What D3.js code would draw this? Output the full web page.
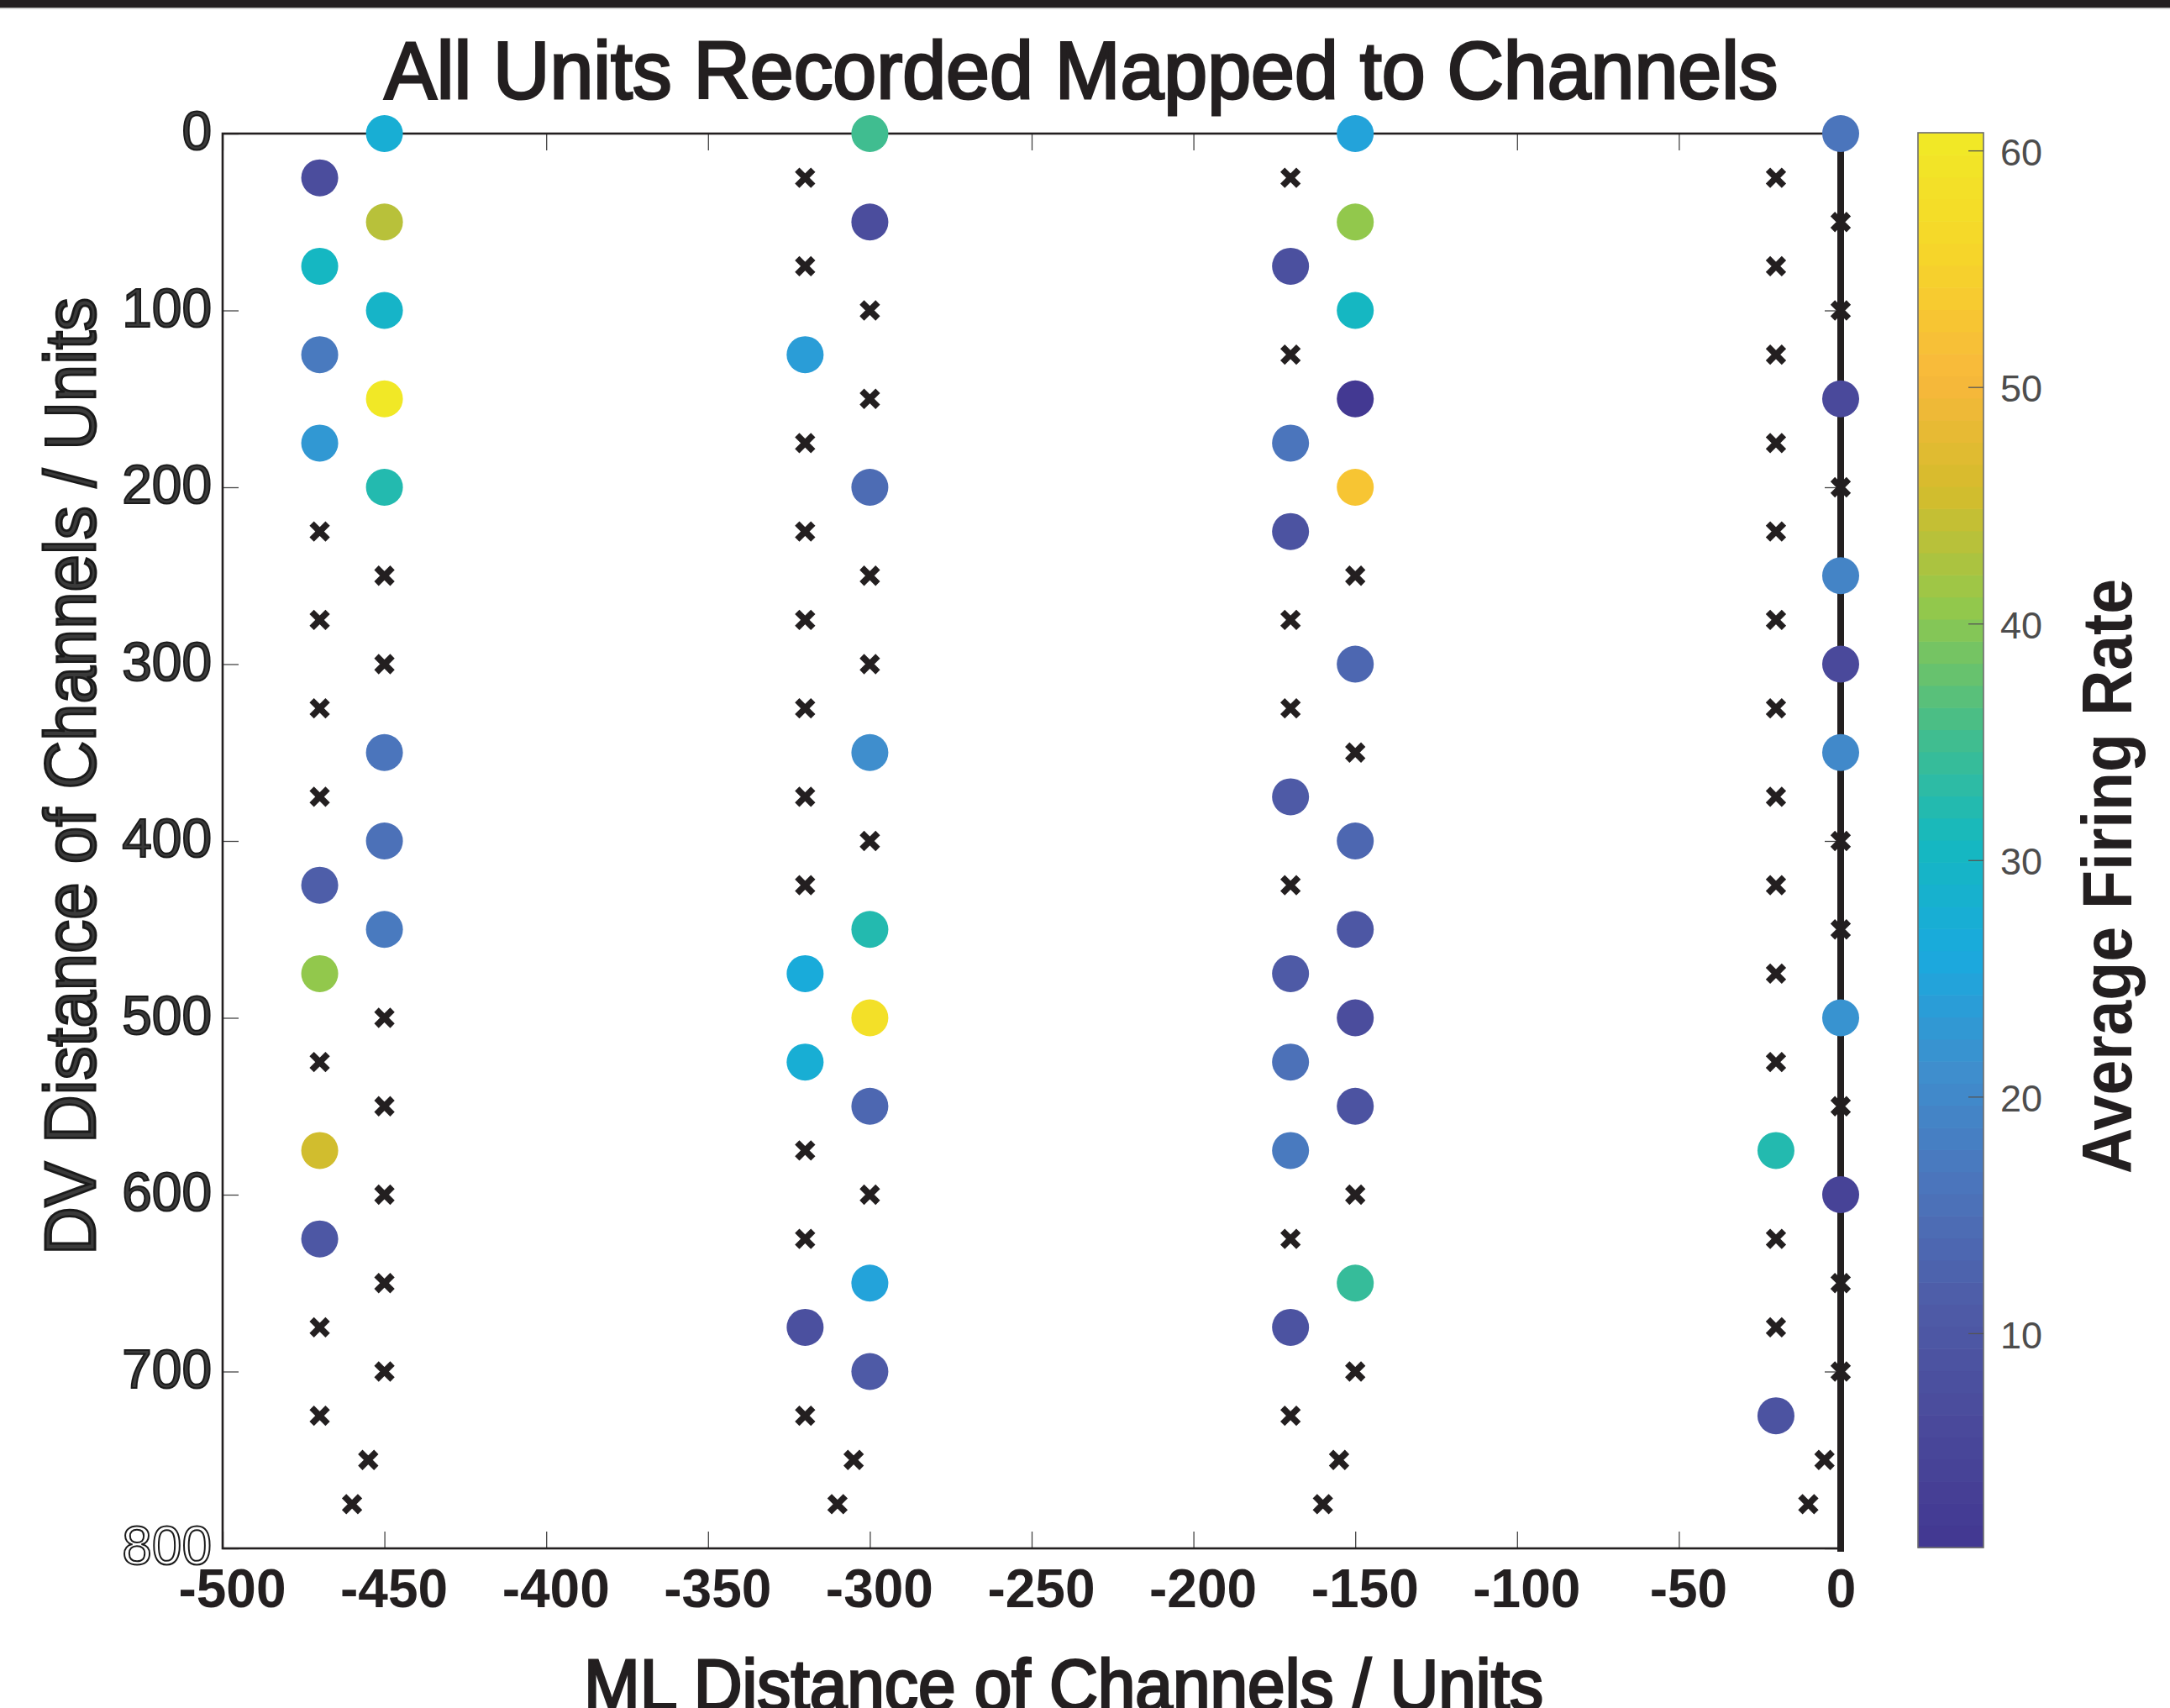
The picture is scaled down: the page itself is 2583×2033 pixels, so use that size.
<!DOCTYPE html>
<html>
<head>
<meta charset="utf-8">
<script src="https://cdn.jsdelivr.net/npm/d3@7"></script>
<style>
  body { margin: 0; background: #fff; }
  text { font-family: "Liberation Sans", Arial, sans-serif; }
</style>
</head>
<body>
<script>
// site depths (DV) for the two columns of each shank
var dvOffset = [25, 75, 125, 175, 225, 275, 325, 375, 425, 475, 525, 575, 625, 675, 725];
var dvEven   = [0, 50, 100, 150, 200, 250, 300, 350, 400, 450, 500, 550, 600, 650, 700];

// ML position of every column (shank pairs)
var colML = [-470, -450, -320, -300, -170, -150, -20, 0];

// average firing rate per site, null = no unit recorded (drawn as x)
var rate_m470 = [7, 30, 17, 23, null, null, null, null, 12, 41, null, 45, 10, null, null];
var rate_m450 = [28, 43.5, 29.5, 60.75, 32, null, null, 16, 15, 17, null, null, null, null, null];
var rate_m320 = [null, null, 23.5, null, null, null, null, null, null, 26.5, 28, null, null, 8, null];
var rate_m300 = [35, 7, null, null, 14.5, null, null, 21, null, 32, 58, 13.5, null, 24.5, 11];
var rate_m170 = [null, 7.5, null, 16.5, 9, null, null, 10.5, null, 10.5, 15.5, 17.5, null, 9, null];
var rate_m150 = [24.5, 41, 30.5, 0.94, 52.5, null, 14, null, 13.5, 10, 7, 9, null, 34, null];
var rate_m20  = [null, null, null, null, null, null, null, null, null, null, null, 32.5, null, null, 9];
var rate_0    = [16, null, null, 6.5, null, 19.5, 6, 20, null, null, 22, null, 4.5, null, null];

// tip sites near shank ends (no units)
var tipML = [-455, -460, -305, -310, -155, -160, -5, -10];
var tipDV = [750, 775, 750, 775, 750, 775, 750, 775];

var xTicks = [-500, -450, -400, -350, -300, -250, -200, -150, -100, -50, 0];
var yTicks = [0, 100, 200, 300, 400, 500, 600, 700, 800];
var cbTicks = [10, 20, 30, 40, 50, 60];

// colormap as seen in the colorbar (64 levels)
var cmapStops = ["#433992", "#4a4a9b", "#4e5ca7", "#4c74bb", "#3f8ecd", "#1aa9de", "#15b9bf",
                 "#47be88", "#92c84c", "#d4bc2c", "#f8b83c", "#f6d42a", "#f1e826"];

// build site table
var colRates = [rate_m470, rate_m450, rate_m320, rate_m300, rate_m170, rate_m150, rate_m20, rate_0];
var sites = [];
colRates.forEach(function(r, c) {
	var dv = (c % 2 == 0) ? dvOffset : dvEven;
	r.forEach(function(v, i) { sites.push({ ml: colML[c], dv: dv[i], rate: v }); });
});
tipML.forEach(function(m, i) { sites.push({ ml: m, dv: tipDV[i], rate: null }); });
var units = sites.filter(function(d) { return d.rate !== null; });
var empty = sites.filter(function(d) { return d.rate === null; });

var W = 2583, H = 2033;
var svg = d3.select("body").append("svg").attr("width", W).attr("height", H);
svg.append("rect").attr("width", W).attr("height", H).attr("fill", "#fff");
svg.append("rect").attr("width", W).attr("height", 9).attr("fill", "#231f20");
svg.append("rect").attr("y", 9).attr("width", W).attr("height", 1.5).attr("fill", "#bbbbbb");

var x = d3.scaleLinear().domain([-500, 0]).range([265, 2191]);
var y = d3.scaleLinear().domain([0, 800]).range([159, 1843]);

var ext = d3.extent(units, function(d) { return d.rate; });
var cinterp = d3.scaleLinear().domain(d3.range(cmapStops.length).map(function(i) { return i / (cmapStops.length - 1); }))
	.range(cmapStops).interpolate(d3.interpolateRgb);
function cmap(v) {
	var t = (v - ext[0]) / (ext[1] - ext[0]);
	var idx = Math.max(0, Math.min(63, Math.floor(t * 64)));
	return cinterp(idx / 63);
}

// axes //{{{
var gx = svg.append("g").attr("transform", "translate(0," + y(800) + ")")
	.call(d3.axisBottom(x).tickValues(xTicks).tickSize(-20).tickPadding(25).tickFormat(function(d) { return String(d); }));
gx.selectAll("text").attr("font-size", 64).attr("font-weight", "bold").attr("fill", "#231f20")
	.attr("dx", function(d) { return d < 0 ? 11 : 0; });
svg.append("g").attr("transform", "translate(0," + y(0) + ")")
	.call(d3.axisTop(x).tickValues(xTicks).tickSize(-20).tickFormat(""));

var gy = svg.append("g").attr("transform", "translate(" + x(-500) + ",0)")
	.call(d3.axisLeft(y).tickValues(yTicks).tickSize(-19).tickPadding(13));
gy.selectAll("text").attr("font-size", 64).attr("dy", "0.29em")
	.attr("fill", function(d) { return d == 800 ? "#fff" : "#3a3a3a"; })
	.attr("stroke", "#1a1a1a").attr("stroke-width", 2);
svg.append("g").attr("transform", "translate(" + x(0) + ",0)")
	.call(d3.axisRight(y).tickValues(yTicks).tickSize(-19).tickFormat(""));

svg.selectAll(".domain").remove();
svg.selectAll(".tick line").attr("stroke", "#444").attr("stroke-width", 1.3);

svg.append("rect").attr("x", x(-500)).attr("y", y(0))
	.attr("width", x(0) - x(-500)).attr("height", y(800) - y(0))
	.attr("fill", "none").attr("stroke", "#231f20").attr("stroke-width", 2.6);
//}}}

// probe line at ML = 0
svg.append("line").attr("x1", x(0)).attr("x2", x(0)).attr("y1", y(0)).attr("y2", y(800))
	.attr("stroke", "#231f20").attr("stroke-width", 8).attr("stroke-linecap", "square");

// marks //{{{
svg.append("g").selectAll("circle").data(units).join("circle")
	.attr("cx", function(d) { return x(d.ml); })
	.attr("cy", function(d) { return y(d.dv); })
	.attr("r", 22)
	.attr("fill", function(d) { return cmap(d.rate); });

svg.append("g").selectAll("path").data(empty).join("path")
	.attr("transform", function(d) { return "translate(" + x(d.ml) + "," + y(d.dv) + ")"; })
	.attr("d", "M-9.5,-9.5L9.5,9.5M-9.5,9.5L9.5,-9.5")
	.attr("stroke", "#231f20").attr("stroke-width", 7.5).attr("fill", "none");
//}}}

// colorbar //{{{
var cbX = 2283, cbW = 78;
var cbY = d3.scaleLinear().domain(ext).range([1842, 158]);
var bands = d3.range(64);
svg.append("g").selectAll("rect").data(bands).join("rect")
	.attr("x", cbX).attr("width", cbW)
	.attr("y", function(i) { return cbY(ext[0] + (i + 1) / 64 * (ext[1] - ext[0])); })
	.attr("height", (1842 - 158) / 64 + 0.6)
	.attr("fill", function(i) { return cinterp(i / 63); });
svg.append("rect").attr("x", cbX).attr("y", 158).attr("width", cbW).attr("height", 1842 - 158)
	.attr("fill", "none").attr("stroke", "#6d6d6d").attr("stroke-width", 1.6);
var gcb = svg.append("g").attr("transform", "translate(" + (cbX + cbW) + ",0)")
	.call(d3.axisRight(cbY).tickValues(cbTicks).tickSize(-18).tickPadding(20));
gcb.select(".domain").remove();
gcb.selectAll(".tick line").attr("stroke", "#555").attr("stroke-width", 1.3);
gcb.selectAll("text").attr("font-size", 45).attr("fill", "#4d4d4d").attr("dy", "0.38em");
//}}}

// labels //{{{
svg.append("text").attr("x", 1287).attr("y", 117).attr("text-anchor", "middle")
	.attr("font-size", 97).attr("fill", "#231f20").attr("stroke", "#231f20").attr("stroke-width", 3)
	.attr("textLength", 1659).attr("lengthAdjust", "spacingAndGlyphs")
	.text("All Units Recorded Mapped to Channels");

svg.append("text").attr("x", 1266).attr("y", 2035).attr("text-anchor", "middle")
	.attr("font-size", 86).attr("fill", "#231f20").attr("stroke", "#231f20").attr("stroke-width", 3)
	.attr("textLength", 1142).attr("lengthAdjust", "spacingAndGlyphs")
	.text("ML Distance of Channels / Units");

svg.append("text").attr("transform", "translate(113,924) rotate(-90)").attr("text-anchor", "middle")
	.attr("font-size", 86).attr("fill", "#3a3a3a").attr("stroke", "#1a1a1a").attr("stroke-width", 3)
	.attr("textLength", 1140).attr("lengthAdjust", "spacingAndGlyphs")
	.text("DV Distance of Channels / Units");

svg.append("text").attr("transform", "translate(2537,1043) rotate(-90)").attr("text-anchor", "middle")
	.attr("font-size", 84).attr("font-weight", "bold").attr("fill", "#231f20")
	.attr("textLength", 708).attr("lengthAdjust", "spacingAndGlyphs")
	.text("Average Firing Rate");
//}}}
</script>
</body>
</html>
